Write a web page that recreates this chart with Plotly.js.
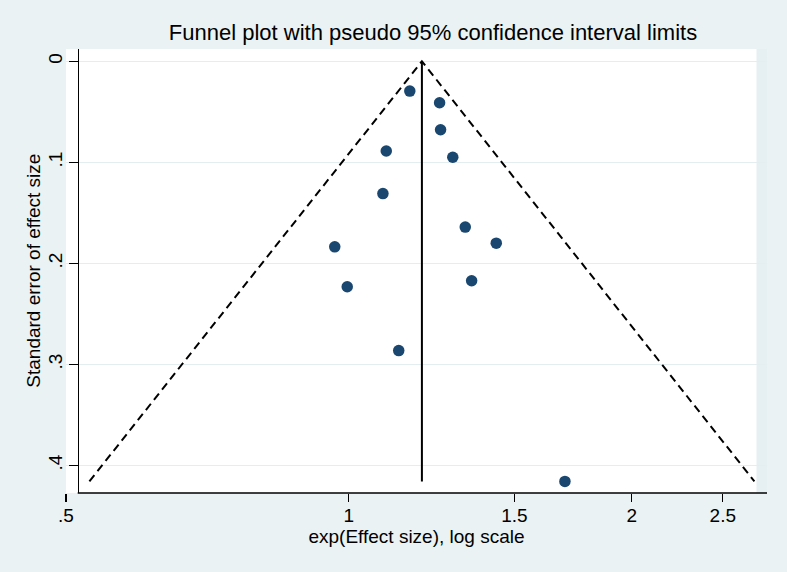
<!DOCTYPE html>
<html>
<head>
<meta charset="utf-8">
<script src="https://cdn.plot.ly/plotly-3.0.1.min.js"></script>
<style>html,body{margin:0;padding:0;background:#EAF2F3;}#chart{width:787px;height:572px;}</style>
</head>
<body>
<div id="chart"></div>
<script>
// Study effect sizes (exp scale) and standard errors
const effectSize = [1.161, 1.249, 1.252, 1.096, 1.290, 1.087, 1.330, 1.435, 0.966, 1.351, 0.996, 1.130, 1.698];
const stdError   = [0.0295, 0.0410, 0.0677, 0.0888, 0.0950, 0.1309, 0.1641, 0.1800, 0.1836, 0.2172, 0.2231, 0.2863, 0.4157];
const pooledEffect = 1.196;   // exp(pooled estimate)
const maxSE = 0.4157;
const z95 = 1.96;
const xTickVals = [0.5, 1, 1.5, 2, 2.5];
const xTickText = ['.5', '1', '1.5', '2', '2.5'];
const yTickVals = [0, 0.1, 0.2, 0.3, 0.4];
const yTickText = ['0', '.1', '.2', '.3', '.4'];

const lnP = Math.log(pooledEffect);
const leftEnd = Math.exp(lnP - z95 * maxSE);
const rightEnd = Math.exp(lnP + z95 * maxSE);

const W = 787, H = 572;
const L = 66.3, R = 19.5, T = 48.5, B = 78.7;
const plotW = W - L - R;

const traces = [
  { x: [leftEnd, pooledEffect, rightEnd], y: [maxSE, 0, maxSE], mode: 'lines',
    line: { color: '#000', width: 2, dash: '8px,5px' }, hoverinfo: 'skip', showlegend: false },
  { x: [pooledEffect, pooledEffect], y: [0, maxSE], mode: 'lines',
    line: { color: '#000', width: 2 }, hoverinfo: 'skip', showlegend: false },
  { x: effectSize, y: stdError, mode: 'markers',
    marker: { color: '#1A476F', size: 11.5 }, showlegend: false }
];

const layout = {
  width: W, height: H,
  paper_bgcolor: '#EAF2F3', plot_bgcolor: '#FFFFFF',
  margin: { l: L, r: R, t: T, b: B, pad: 0 },
  font: { family: '"Liberation Sans", Arial, sans-serif', color: '#000', size: 19 },
  title: { text: 'Funnel plot with pseudo 95% confidence interval limits',
           font: { size: 22, color: '#000' }, xref: 'container', x: 433 / W, xanchor: 'center',
           yref: 'container', y: 1 - 32 / H, yanchor: 'middle' },
  xaxis: {
    type: 'log', range: [Math.log10(0.5), Math.log10(2.786)],
    tickvals: xTickVals, ticktext: xTickText,
    ticks: 'outside', ticklen: 8, tickwidth: 1.2, tickcolor: '#000',
    showgrid: false, zeroline: false, showline: false,
    tickfont: { size: 19 }, ticklabelstandoff: -3,
    title: { text: 'exp(Effect size), log scale', font: { size: 19 }, standoff: 2 }
  },
  yaxis: {
    range: [0.4272, -0.01215],
    anchor: 'free', position: (78 - L) / plotW,
    tickvals: yTickVals, ticktext: yTickText, tickangle: -90,
    ticks: 'outside', ticklen: 9, tickwidth: 1.2, tickcolor: '#000',
    showgrid: true, gridcolor: '#E4EEF0', gridwidth: 1.5, zeroline: false,
    showline: true, linecolor: '#000', linewidth: 1.3,
    tickfont: { size: 19 }, ticklabelstandoff: -1
  },
  annotations: [
    { text: 'Standard error of effect size', xref: 'paper', yref: 'paper',
      x: (33 - L) / plotW, y: 0.5, xanchor: 'center', yanchor: 'middle',
      textangle: -90, showarrow: false, font: { size: 19, color: '#000' } }
  ],
  shapes: [
    { type: 'rect', xref: 'paper', yref: 'paper', x0: (757 - L) / plotW, x1: 1, y0: 0, y1: 1,
      fillcolor: '#E6EFF2', line: { width: 0 }, layer: 'below' },
    { type: 'line', xref: 'paper', yref: 'paper', x0: (78 - L) / plotW, x1: 1, y0: 0, y1: 0,
      line: { color: '#000', width: 1.3 } }
  ]
};

Plotly.newPlot('chart', traces, layout, { displayModeBar: false, staticPlot: true });
</script>
</body>
</html>
